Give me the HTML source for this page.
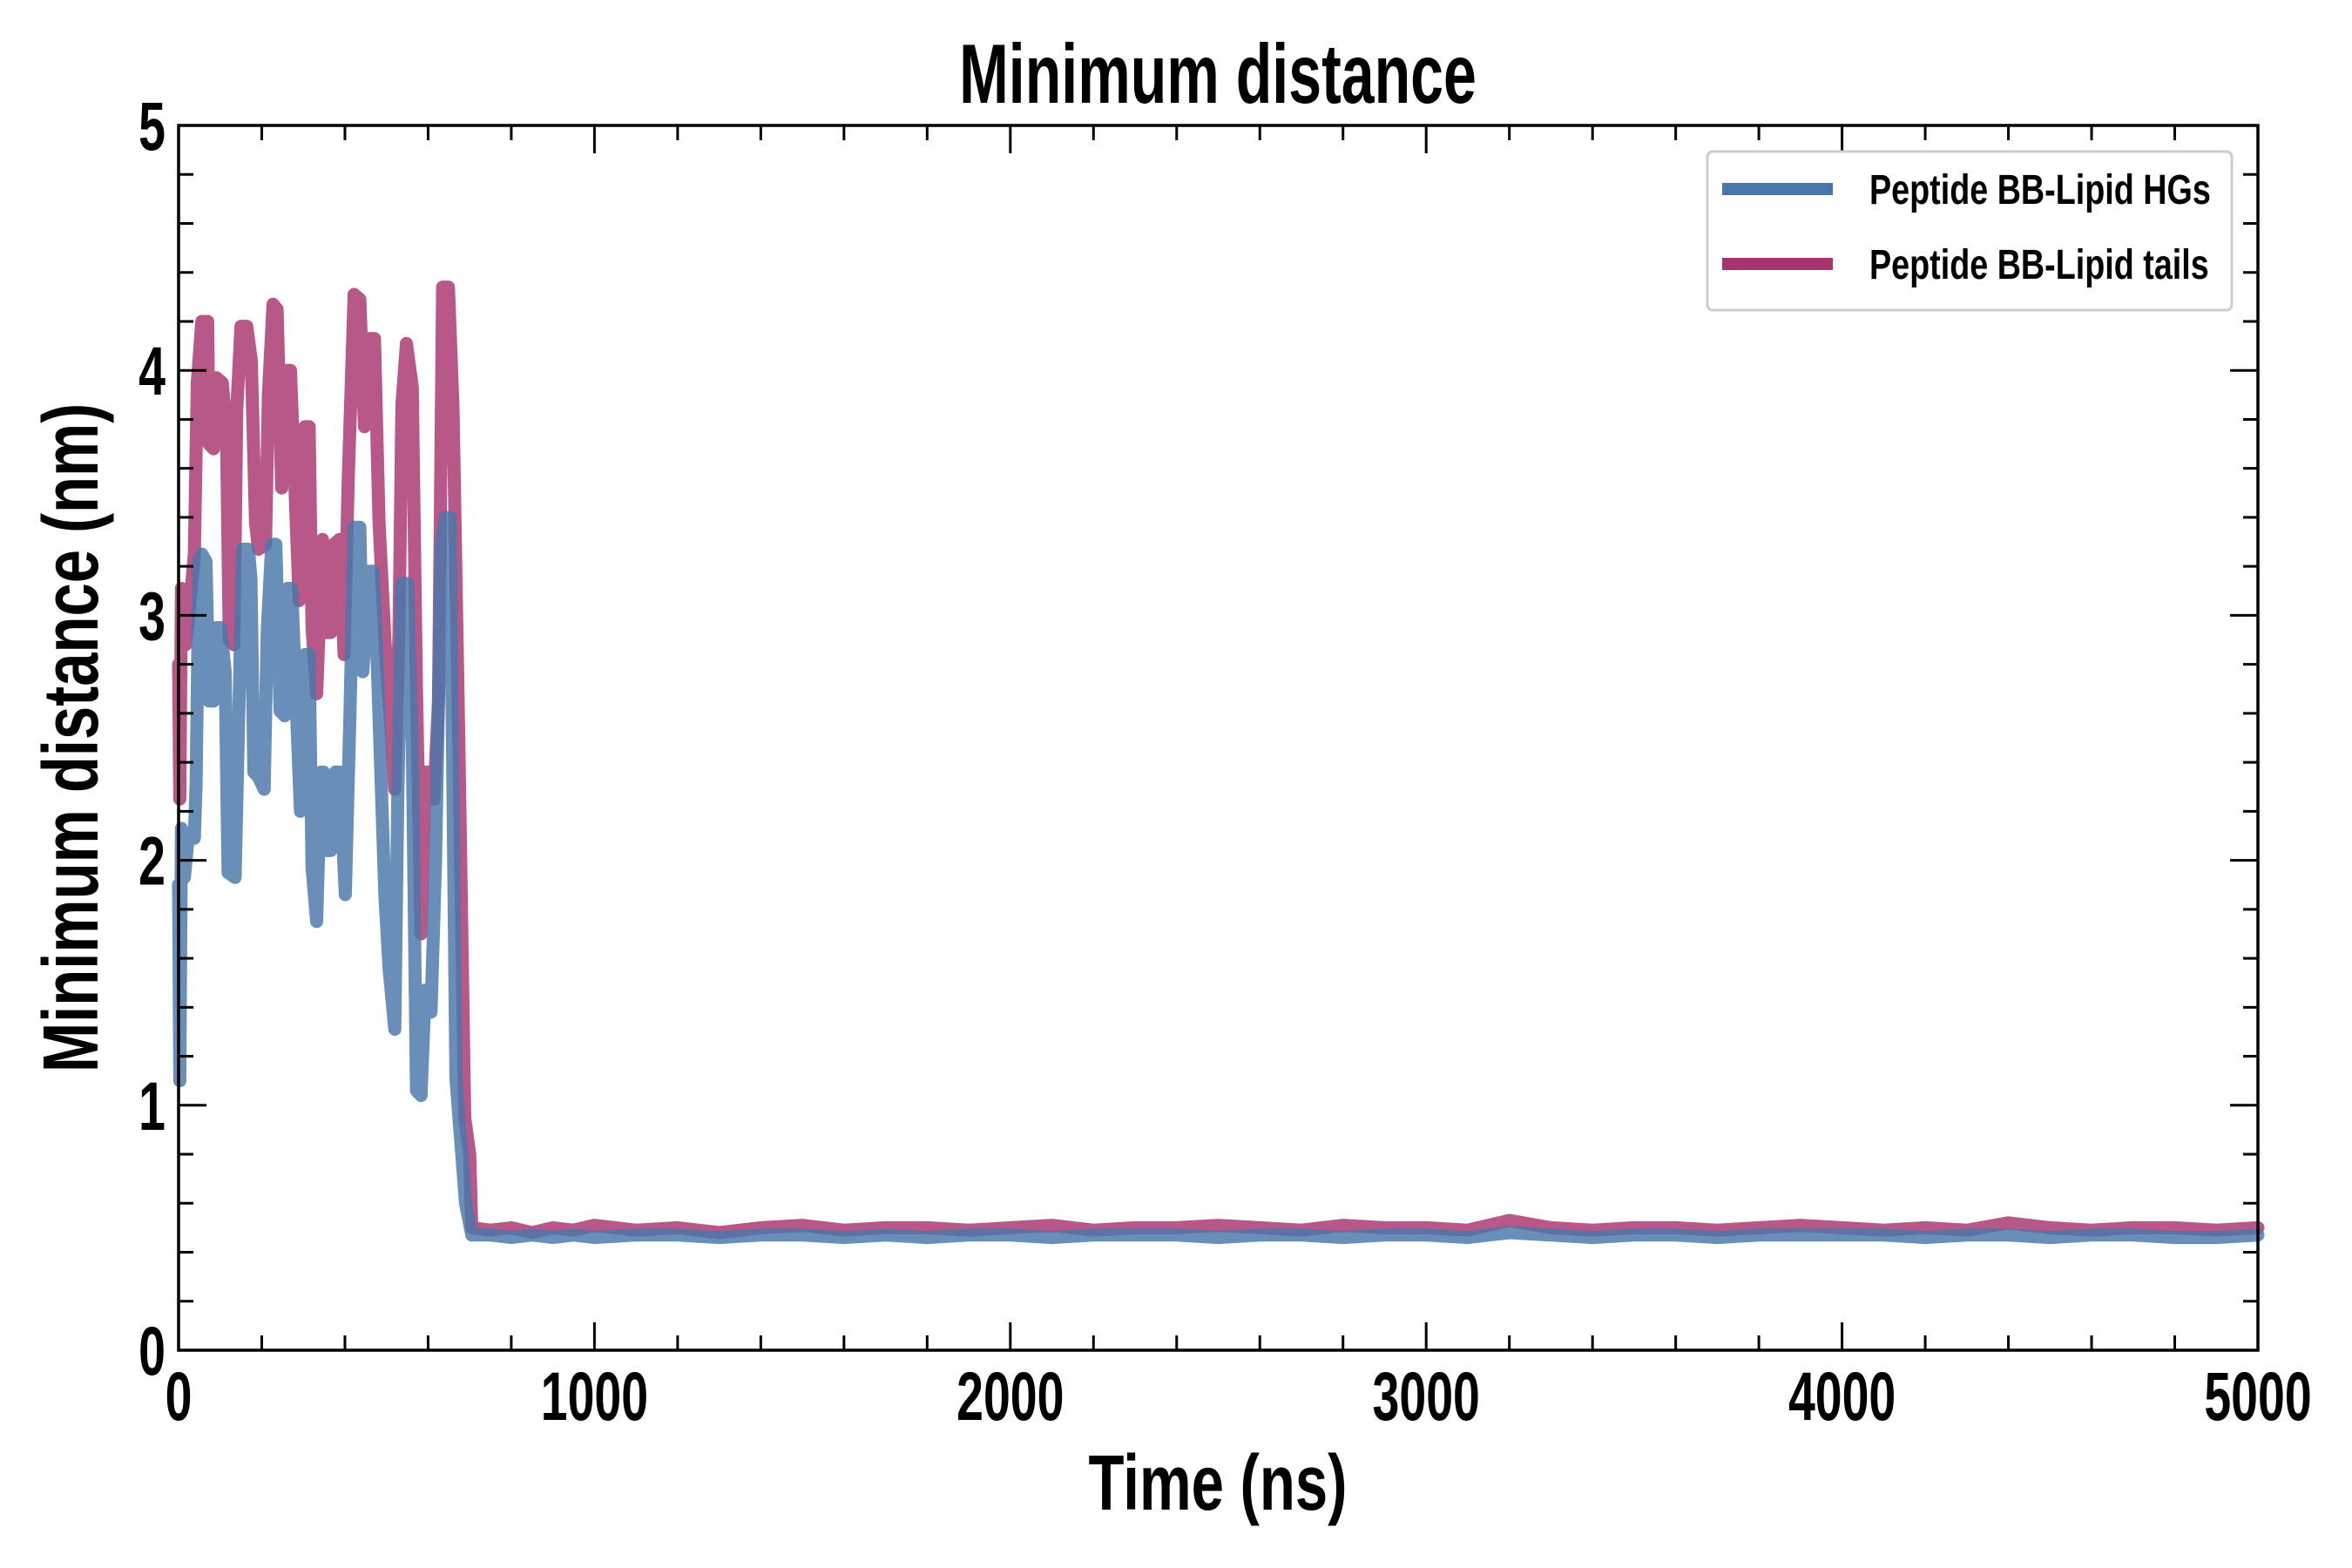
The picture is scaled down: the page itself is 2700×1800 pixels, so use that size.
<!DOCTYPE html>
<html><head><meta charset="utf-8"><style>
html,body{margin:0;padding:0;background:#fff}
svg{display:block}
text{font-family:"Liberation Sans",sans-serif;font-weight:bold;fill:#000}
</style></head><body>
<svg id="chart" width="2700" height="1800" viewBox="0 0 2700 1800" xmlns="http://www.w3.org/2000/svg">
<text transform="translate(1398,118) scale(0.74,1.05)" font-size="92" text-anchor="middle">Minimum distance</text>
<text transform="translate(1398,1733) scale(0.78,1.05)" font-size="86" text-anchor="middle">Time (ns)</text>
<text transform="translate(112,847) rotate(-90) scale(0.8,1.05)" font-size="86" text-anchor="middle">Minimum distance (nm)</text>
<g id="series"></g>
<g id="axes"></g>
<g>
<rect x="1960" y="174" width="602" height="182" rx="6" fill="#fff" stroke="#ccc" stroke-width="3"/>
<line x1="1977" y1="217" x2="2104" y2="217" stroke="#4876aa" stroke-width="14"/>
<text transform="translate(2146,234) scale(0.82,1.05)" font-size="46">Peptide BB-Lipid HGs</text>
<line x1="1977" y1="303" x2="2104" y2="303" stroke="#a8336f" stroke-width="14"/>
<text transform="translate(2146,320) scale(0.82,1.05)" font-size="46">Peptide BB-Lipid tails</text>
</g>
</svg>
<script>
const xTicks=[0,1000,2000,3000,4000,5000];
const yTicks=[0,1,2,3,4,5];
const hgTime=[0,3,7,14,24,38,42,49,56,66,73,84,91,101,112,119,136,143,154,168,174,181,192,206,213,224,234,244,255,262,272,283,293,304,314,321,332,342,349,356,366,377,387,401,412,422,436,443,457,468,478,496,506,520,527,537,551,562,572,583,593,607,618,632,642,653,667,690,705];
const hgVal=[1.9,1.1,2.13,1.93,2.11,2.09,2.31,3.22,3.25,3.22,2.65,2.65,2.95,2.95,2.77,1.95,1.93,2.47,3.27,3.27,3.15,2.36,2.34,2.29,2.93,3.29,3.29,2.61,2.59,3.11,3.11,2.63,2.2,2.84,2.84,1.97,1.75,2.36,2.36,2.04,2.04,2.36,2.36,1.86,2.59,3.36,3.36,2.77,3.18,3.18,2.79,1.86,1.56,1.31,2.25,3.13,3.13,2.47,1.06,1.04,1.47,1.38,2.0,3.29,3.4,3.4,1.11,0.6,0.47];
const tlTime=[0,3,7,17,28,38,45,56,70,73,84,91,105,115,122,133,140,150,164,175,185,192,209,216,227,237,248,258,269,279,290,304,314,321,332,346,356,366,373,387,398,408,422,436,447,461,471,482,499,510,520,530,537,548,562,572,583,593,607,614,625,635,649,660,674,688,700,705];
const tlVal=[2.8,2.25,3.11,2.88,3.06,3.25,3.95,4.2,4.2,3.7,3.68,3.97,3.95,3.77,2.9,2.88,3.84,4.18,4.18,4.04,3.38,3.27,3.29,3.9,4.27,4.25,3.52,4.0,4.0,3.56,3.06,3.77,3.77,2.95,2.68,3.31,2.93,2.93,3.29,3.31,2.84,3.56,4.31,4.29,3.77,4.13,4.13,3.38,2.81,2.56,2.29,2.93,3.86,4.11,3.93,2.7,1.7,2.36,2.36,2.25,2.65,4.34,4.34,3.84,2.47,0.95,0.8,0.5];
const lateTime=[750,800,850,900,950,1000,1100,1200,1300,1400,1500,1600,1700,1800,1900,2000,2100,2200,2300,2400,2500,2600,2700,2800,2900,3000,3100,3200,3300,3400,3500,3600,3700,3800,3900,4000,4100,4200,4300,4400,4500,4600,4700,4800,4900,5000];
const lateHg=[0.47,0.46,0.47,0.46,0.47,0.46,0.47,0.47,0.46,0.47,0.47,0.46,0.47,0.46,0.47,0.47,0.46,0.47,0.47,0.47,0.46,0.47,0.47,0.46,0.47,0.47,0.46,0.48,0.47,0.46,0.47,0.47,0.46,0.47,0.47,0.47,0.47,0.46,0.47,0.47,0.46,0.47,0.47,0.46,0.46,0.47];
const lateTl=[0.49,0.5,0.48,0.5,0.49,0.51,0.49,0.5,0.48,0.5,0.51,0.49,0.5,0.5,0.49,0.5,0.51,0.49,0.5,0.5,0.51,0.5,0.49,0.51,0.5,0.5,0.49,0.53,0.5,0.49,0.5,0.5,0.49,0.5,0.51,0.5,0.49,0.5,0.49,0.52,0.5,0.49,0.5,0.5,0.49,0.5];

const X0=205,X1=2592,Y0=1550,Y1=144;
const sx=v=>X0+(v/5000)*(X1-X0);
const sy=v=>Y0-(v/5)*(Y0-Y1);
const NS="http://www.w3.org/2000/svg";
const ser=document.getElementById('series');
function drawLine(ts,vs,color,name){
  const p=document.createElementNS(NS,'polyline');
  p.setAttribute('points',ts.map((t,i)=>sx(t).toFixed(1)+','+sy(vs[i]).toFixed(1)).join(' '));
  p.setAttribute('fill','none');p.setAttribute('stroke',color);p.setAttribute('stroke-width','15');
  p.setAttribute('stroke-linejoin','round');p.setAttribute('stroke-linecap','round');p.setAttribute('stroke-opacity','0.82');
  
  
  ser.appendChild(p);
}
drawLine(tlTime.concat(lateTime),tlVal.concat(lateTl),'#a8336f','line-lipid-tails');
drawLine(hgTime.concat(lateTime),hgVal.concat(lateHg),'#4876aa','line-lipid-hgs');

const ax=document.getElementById('axes');
function ln(x1,y1,x2,y2,w,name){
  const l=document.createElementNS(NS,'line');
  l.setAttribute('x1',x1);l.setAttribute('y1',y1);l.setAttribute('x2',x2);l.setAttribute('y2',y2);
  l.setAttribute('stroke','#000');l.setAttribute('stroke-width',w);
  
  
  ax.appendChild(l);
}
function tx(x,y,s,anchor,name){
  const t=document.createElementNS(NS,'text');
  t.setAttribute('transform','translate('+x+','+y+') scale(0.77,1.1)');
  t.setAttribute('font-size','72');t.setAttribute('text-anchor',anchor);
  t.textContent=s;
  
  
  ax.appendChild(t);
}
for(let v=0;v<=5000;v+=200){const maj=v%1000===0;const L=maj?32:17;
  ln(sx(v),Y0,sx(v),Y0-L,3,'x-tick');ln(sx(v),Y1,sx(v),Y1+L,3,'x-tick-top');}
for(let i=0;i<=25;i++){const v=i*0.2;const maj=i%5===0;const L=maj?32:17;
  ln(X0,sy(v),X0+L,sy(v),3,'y-tick');ln(X1,sy(v),X1-L,sy(v),3,'y-tick-right');}
xTicks.forEach(v=>tx(sx(v),1630,String(v),'middle','x-tick-label'));
yTicks.forEach(v=>tx(190,sy(v)+28,String(v),'end','y-tick-label'));
const fr=document.createElementNS(NS,'rect');
fr.setAttribute('x',X0);fr.setAttribute('y',Y1);fr.setAttribute('width',X1-X0);fr.setAttribute('height',Y0-Y1);
fr.setAttribute('fill','none');fr.setAttribute('stroke','#000');fr.setAttribute('stroke-width','3.5');


ax.appendChild(fr);
</script>
</body></html>
